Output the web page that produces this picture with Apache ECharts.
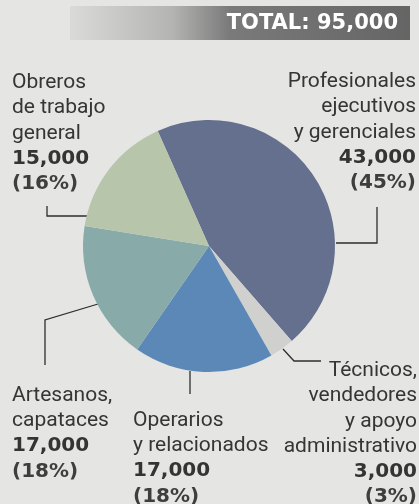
<!DOCTYPE html>
<html><head><meta charset="utf-8">
<script src="https://cdn.jsdelivr.net/npm/echarts@6/dist/echarts.min.js"></script>
<style>html,body{margin:0;padding:0;background:#e5e5e3}#c{width:419px;height:504px}</style>
</head><body><div id="c"></div>
<script>
// ---- data ----
const categories = ['Profesionales ejecutivos y gerenciales', 'Técnicos, vendedores y apoyo administrativo', 'Operarios y relacionados', 'Artesanos, capataces', 'Obreros de trabajo general'];
const nameLines = [['Profesionales', 'ejecutivos', 'y gerenciales'], ['Técnicos,', 'vendedores', 'y apoyo', 'administrativo'], ['Operarios', 'y relacionados'], ['Artesanos,', 'capataces'], ['Obreros', 'de trabajo', 'general']];
const values = [43000, 3000, 17000, 17000, 15000];
const percents = [45, 3, 18, 18, 16];
const totalLabel = 'TOTAL: ';

// ---- style / layout ----
const colors = ['#656f8e', '#d0d0cf', '#5c88b8', '#88aaa9', '#b7c6aa'];
const labelPlaces = [
  {x: 416, y: 69, align: 'right', line: [[336, 243], [377, 243], [377, 207]]},
  {x: 417, y: 358, align: 'right', line: [[283, 349], [294, 361], [321, 361]]},
  {x: 133, y: 408, align: 'left', line: [[190, 371], [190, 382], [190, 394]]},
  {x: 12, y: 383, align: 'left', line: [[98, 304], [45, 320], [45, 365]]},
  {x: 12, y: 70, align: 'left', line: [[88, 216], [47, 216], [47, 206]]}
];
const fmt = v => v.toLocaleString('en-US');
const total = values.reduce((a, b) => a + b, 0);
const NAME_FONT = 'Roboto';
const NUM_FONT = 'DejaVu Sans';
const LH = 25.3;

function richFor(align) {
  return {
    n: {fontFamily: NAME_FONT, fontSize: 21, lineHeight: LH, color: '#353535', align: align},
    v: {fontFamily: NUM_FONT, fontWeight: 'bold', fontSize: 20, lineHeight: LH, color: '#343434', align: align},
    p: {fontFamily: NUM_FONT, fontWeight: 'bold', fontSize: 20, lineHeight: LH, color: '#3e3e3e', align: align}
  };
}

const chart = echarts.init(document.getElementById('c'), null, {renderer: 'canvas'});
chart.setOption({
  backgroundColor: '#e5e5e3',
  animation: false,
  graphic: [
    {type: 'rect', silent: true, shape: {x: 70, y: 6, width: 340, height: 34},
     style: {fill: new echarts.graphic.LinearGradient(0, 0, 1, 0, [
       {offset: 0, color: '#dadad8'}, {offset: 0.3, color: '#b4b4b3'}, {offset: 0.47, color: '#7a7a7a'}, {offset: 1, color: '#656565'}])}},
    {type: 'text', silent: true,
     style: {text: totalLabel + fmt(total), x: 398, y: 24, align: 'right', textAlign: 'right', verticalAlign: 'middle', textVerticalAlign: 'middle',
             fill: '#ffffff', font: 'bold 21px "DejaVu Sans"'}}
  ],
  series: [{
    type: 'pie',
    center: [209, 246],
    radius: 126,
    startAngle: 114,
    clockwise: true,
    silent: true,
    avoidLabelOverlap: false,
    data: categories.map((n, i) => ({
      name: n, value: values[i], itemStyle: {color: colors[i]},
      label: {
        align: labelPlaces[i].align,
        formatter: nameLines[i].map(s => '{n|' + s + '}').join('\n') + '\n{v|' + fmt(values[i]) + '}\n{p|(' + percents[i] + '%)}',
        rich: richFor(labelPlaces[i].align)
      }
    })),
    label: {show: true, position: 'outside'},
    labelLine: {show: true, smooth: false, lineStyle: {color: '#2e2e2e', width: 1.3}},
    labelLayout: function (p) {
      const L = labelPlaces[p.dataIndex];
      return {x: L.x, y: L.y, align: L.align, verticalAlign: 'top', labelLinePoints: L.line};
    }
  }]
});
</script>
</body></html>
